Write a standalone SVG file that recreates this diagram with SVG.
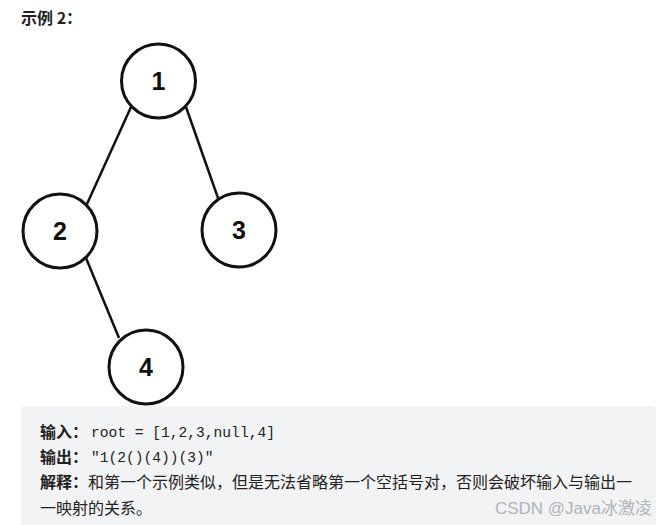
<svg xmlns="http://www.w3.org/2000/svg" width="666" height="525" viewBox="0 0 666 525">
<style>
.node circle{fill:#fff;stroke:#111;stroke-width:3}
.node text{font-family:"Liberation Sans",Arial,sans-serif;font-weight:bold;font-size:25px;fill:#111;text-anchor:middle}
.edge{stroke:#111;stroke-width:2.5;fill:none}
.cn{font-family:"Noto Sans CJK SC","Liberation Sans",sans-serif;font-size:16px;fill:#222}
.b{font-weight:bold}
.mono{font-family:"Liberation Mono","DejaVu Sans Mono",monospace;font-size:14.6px;fill:#222}
</style>
<rect width="666" height="525" fill="#fff"/>
<text x="21" y="24" class="cn b" font-size="15">示例 2：</text>
<g id="connectors">
<line class="edge" x1="131" y1="107" x2="87" y2="204"/>
<line class="edge" x1="186" y1="107" x2="218" y2="198"/>
<line class="edge" x1="86" y1="258" x2="119" y2="338"/>
</g>
<g id="n1" class="node"><circle cx="158.5" cy="81" r="37"/><text x="158.5" y="90">1</text></g>
<g id="n2" class="node"><circle cx="60" cy="231" r="37"/><text x="60" y="240">2</text></g>
<g id="n3" class="node"><circle cx="239" cy="230" r="37"/><text x="239" y="239">3</text></g>
<g id="n4" class="node"><circle cx="146" cy="367" r="37"/><text x="146" y="376">4</text></g>
<g id="box">
<rect x="21" y="406" width="635" height="130" rx="4" fill="#f2f3f5"/>
<text x="40" y="438" class="cn b">输入：</text><text x="91" y="437" class="mono">root = [1,2,3,null,4]</text>
<text x="40" y="463" class="cn b">输出：</text><text x="91" y="462" class="mono">"1(2()(4))(3)"</text>
<text x="40" y="488" class="cn"><tspan class="b">解释：</tspan>和第一个示例类似，但是无法省略第一个空括号对，否则会破坏输入与输出一</text>
<text x="40" y="514" class="cn">一映射的关系。</text>
<text x="652" y="514" text-anchor="end" font-family="'Liberation Sans','Noto Sans CJK SC',sans-serif" font-size="17" fill="#b0b3b8">CSDN @Java冰激凌</text>
</g>
</svg>
